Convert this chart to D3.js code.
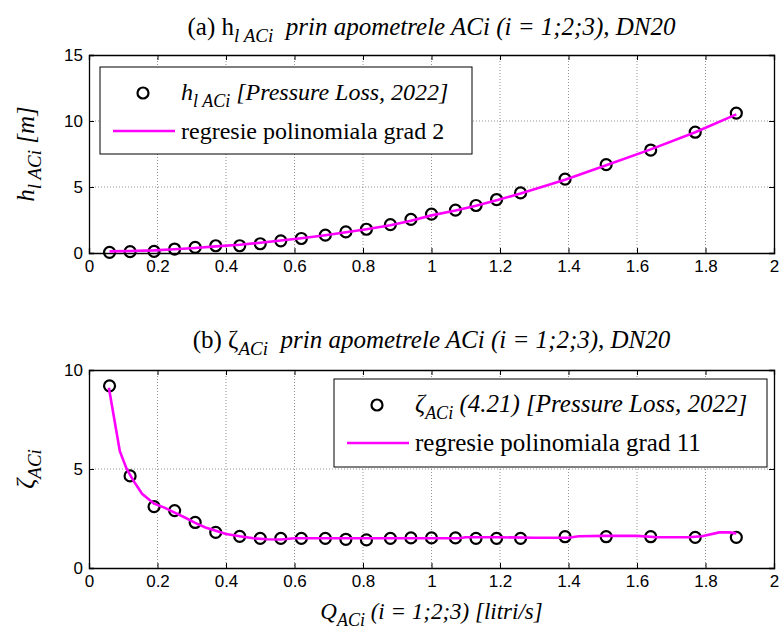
<!DOCTYPE html>
<html>
<head>
<meta charset="utf-8">
<script src="https://cdn.jsdelivr.net/npm/d3@7"></script>
<style>
  body { margin: 0; background: #fff; }
  svg { display: block; }
  .tick text { font-family: "Liberation Sans", Arial, sans-serif; font-size: 17px; fill: #000; }
  .serif { font-family: "Liberation Serif", "Times New Roman", serif; fill: #000; }
</style>
</head>
<body>
<svg id="chart" width="780" height="634"></svg>
<script>
"use strict";

// debitul Q (litri/s) pentru fiecare masuratoare
const Q = [0.06, 0.12, 0.19, 0.25, 0.31, 0.37, 0.44, 0.50, 0.56, 0.62,
    0.69, 0.75, 0.81, 0.88, 0.94, 1.00, 1.07, 1.13, 1.19, 1.26,
    1.39, 1.51, 1.64, 1.77, 1.89];

// (a) pierderea de sarcina h_lACi [m]
const hData = [0.05, 0.1, 0.12, 0.3, 0.42, 0.55, 0.55, 0.7, 0.92, 1.1,
    1.35, 1.6, 1.8, 2.15, 2.55, 2.95, 3.25, 3.6, 4.05, 4.55,
    5.6, 6.7, 7.8, 9.15, 10.6];
const hFit = [0.12, 0.15, 0.2, 0.28, 0.38, 0.5, 0.62, 0.78, 0.95, 1.12,
    1.35, 1.57, 1.8, 2.1, 2.45, 2.85, 3.22, 3.58, 4.0, 4.5,
    5.55, 6.65, 7.85, 9.15, 10.5];

// (b) coeficientul zeta_ACi
const zData = [9.2, 4.65, 3.1, 2.9, 2.3, 1.8, 1.6, 1.5, 1.5, 1.5,
    1.5, 1.45, 1.42, 1.5, 1.52, 1.52, 1.52, 1.5, 1.5, 1.5,
    1.58, 1.58, 1.58, 1.55, 1.55];
const zFitQ = [0.058, 0.07, 0.09, 0.11, 0.13, 0.155, 0.19, 0.22, 0.25, 0.28,
    0.31, 0.34, 0.37, 0.40, 0.44, 0.48, 0.52, 0.56, 0.60, 0.65,
    0.75, 0.85, 0.95, 1.05, 1.08, 1.10, 1.2, 1.3, 1.4, 1.43,
    1.5, 1.6, 1.66, 1.75, 1.79, 1.84, 1.87, 1.89];
const zFit = [9.1, 7.9, 5.9, 5.0, 4.4, 3.75, 3.25, 3.05, 2.8, 2.55,
    2.28, 2.05, 1.88, 1.72, 1.6, 1.5, 1.45, 1.44, 1.5, 1.5,
    1.5, 1.5, 1.5, 1.5, 1.5, 1.55, 1.55, 1.53, 1.53, 1.6,
    1.62, 1.62, 1.55, 1.55, 1.6, 1.8, 1.8, 1.75];

const xTicks = [0, 0.2, 0.4, 0.6, 0.8, 1, 1.2, 1.4, 1.6, 1.8, 2];
const hTicks = [0, 5, 10, 15];
const zTicks = [0, 5, 10];

const svg = d3.select("#chart");
const left = 89, right = 774;
const x = d3.scaleLinear().domain([0, 2]).range([left, right]);

function panel(opts) {
    const y = d3.scaleLinear().domain(opts.domain).range([opts.bottom, opts.top]);
    const g = svg.append("g");

    // grila punctata
    g.append("g").selectAll("line").data(xTicks.slice(1, -1)).join("line")
        .attr("x1", d => x(d)).attr("x2", d => x(d))
        .attr("y1", opts.top).attr("y2", opts.bottom);
    g.append("g").selectAll("line").data(opts.ticks.slice(1, -1)).join("line")
        .attr("x1", left).attr("x2", right)
        .attr("y1", d => y(d)).attr("y2", d => y(d));
    g.selectAll("line")
        .attr("stroke", "#666").attr("stroke-width", 0.7)
        .attr("stroke-dasharray", "1,2");

    const fmt = d => String(d);
    g.append("g").attr("transform", `translate(0,${opts.bottom})`)
        .call(d3.axisBottom(x).tickValues(xTicks).tickSize(-5).tickPadding(7).tickFormat(fmt));
    g.append("g").attr("transform", `translate(0,${opts.top})`)
        .call(d3.axisTop(x).tickValues(xTicks).tickSize(-5).tickFormat(""));
    g.append("g").attr("transform", `translate(${left},0)`)
        .call(d3.axisLeft(y).tickValues(opts.ticks).tickSize(-5).tickPadding(6).tickFormat(fmt));
    g.append("g").attr("transform", `translate(${right},0)`)
        .call(d3.axisRight(y).tickValues(opts.ticks).tickSize(-5).tickFormat(""));
    g.selectAll(".domain").attr("stroke", "#000").attr("stroke-width", 1.3);
    g.selectAll(".tick line").attr("stroke", "#000");

    // masuratori
    g.append("g").selectAll("circle").data(opts.data).join("circle")
        .attr("cx", (d, i) => x(Q[i])).attr("cy", d => y(d)).attr("r", 5.5)
        .attr("fill", "none").attr("stroke", "#000").attr("stroke-width", 2.2);

    // curba de regresie
    const line = d3.line().x(d => x(d[0])).y(d => y(d[1]));
    g.append("path").datum(opts.fitQ.map((q, i) => [q, opts.fit[i]]))
        .attr("d", line).attr("fill", "none")
        .attr("stroke", "#ff00ff").attr("stroke-width", 2.6);

    // titlu
    const t = g.append("text").attr("class", "serif")
        .attr("x", (left + right) / 2).attr("y", opts.titleY)
        .attr("text-anchor", "middle").style("font-size", "25px");
    t.append("tspan").text(opts.titlePre);
    t.append("tspan").attr("dy", 7).style("font-size", "19px")
        .style("font-style", "italic").text(opts.sub);
    t.append("tspan").attr("dy", -7).style("font-style", "italic")
        .text("\u00a0 prin apometrele ACi (i = 1;2;3), DN20");

    // eticheta axei y
    const yl = g.append("text").attr("class", "serif")
        .attr("transform", `translate(34,${(opts.top + opts.bottom) / 2}) rotate(-90)`)
        .attr("text-anchor", "middle").style("font-size", "25px");
    yl.append("tspan").style("font-style", "italic").text(opts.sym);
    yl.append("tspan").attr("dy", 7).style("font-size", "19px")
        .style("font-style", "italic").text(opts.sub);
    if (opts.yUnit) {
        yl.append("tspan").attr("dy", -7).style("font-style", "italic").text(opts.yUnit);
    }

    // legenda
    const L = opts.legend;
    const lg = g.append("g").attr("transform", `translate(${L.x},${L.y})`);
    lg.append("rect").attr("width", L.w).attr("height", L.h)
        .attr("fill", "#fff").attr("stroke", "#000").attr("stroke-width", 1);
    lg.append("circle").attr("cx", 43).attr("cy", 26).attr("r", 5.5)
        .attr("fill", "none").attr("stroke", "#000").attr("stroke-width", 2.2);
    lg.append("line").attr("x1", 13).attr("x2", 75).attr("y1", 64).attr("y2", 64)
        .attr("stroke", "#ff00ff").attr("stroke-width", 2.6);
    const e1 = lg.append("text").attr("class", "serif").attr("x", 81).attr("y", 33)
        .style("font-size", L.font + "px").style("font-style", "italic");
    e1.append("tspan").text(opts.sym);
    e1.append("tspan").attr("dy", 7).style("font-size", "18px").text(opts.sub);
    e1.append("tspan").attr("dy", -7).text(L.label1);
    lg.append("text").attr("class", "serif").attr("x", 81).attr("y", 72)
        .style("font-size", L.font + "px").text(L.label2);

    return y;
}

panel({
    domain: [0, 15], ticks: hTicks, top: 55, bottom: 253, titleY: 35,
    data: hData, fitQ: Q, fit: hFit,
    titlePre: "(a) h", sym: "h", sub: "l ACi", yUnit: " [m]",
    legend: { x: 100, y: 67, w: 372, h: 87, font: 24,
        label1: " [Pressure Loss, 2022]", label2: "regresie polinomiala grad 2" }
});

panel({
    domain: [0, 10], ticks: zTicks, top: 370, bottom: 568, titleY: 348,
    data: zData, fitQ: zFitQ, fit: zFit,
    titlePre: "(b) \u03b6", sym: "\u03b6", sub: "ACi", yUnit: null,
    legend: { x: 334, y: 379, w: 433, h: 88, font: 25,
        label1: " (4.21) [Pressure Loss, 2022]", label2: "regresie polinomiala grad 11" }
});

// eticheta axei x
const xl = svg.append("text").attr("class", "serif")
    .attr("x", (left + right) / 2).attr("y", 619)
    .attr("text-anchor", "middle").style("font-size", "23px").style("font-style", "italic");
xl.append("tspan").text("Q");
xl.append("tspan").attr("dy", 7).style("font-size", "18px").text("ACi");
xl.append("tspan").attr("dy", -7).text(" (i = 1;2;3) [litri/s]");
</script>
</body>
</html>
